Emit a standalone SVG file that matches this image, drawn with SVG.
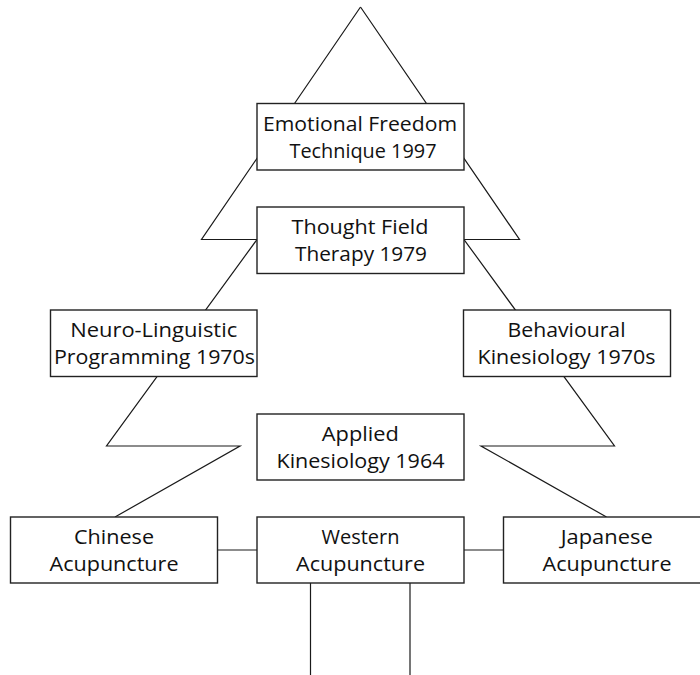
<svg xmlns="http://www.w3.org/2000/svg" width="700" height="675" viewBox="0 0 700 675">
<style>
.ln{fill:none;stroke:#1a1a1a;stroke-width:1.2}
.bx{fill:#fff;stroke:#222;stroke-width:1.4}
.tx{font-family:"Open Sans","Noto Sans","Liberation Sans",sans-serif;font-size:20px;fill:#111;text-anchor:middle}
</style>
<rect width="700" height="675" fill="#fff"/>
<g id="connectors">
<polyline class="ln" points="360.5,7 201.5,239.5 257,239.5 106.5,446 240,446 115,517"/>
<polyline class="ln" points="360.5,7 519.5,239.5 464,239.5 614.5,446 481,446 606.5,517"/>
<line class="ln" x1="217.5" y1="550" x2="257" y2="550"/>
<line class="ln" x1="464" y1="550" x2="503.5" y2="550"/>
<line class="ln" x1="310.5" y1="583" x2="310.5" y2="675"/>
<line class="ln" x1="410" y1="583" x2="410" y2="675"/>
</g>
<g id="eft">
<rect class="bx" x="257" y="103.5" width="207" height="66.5"/>
<text class="tx" x="360" y="130.7" textLength="194" lengthAdjust="spacingAndGlyphs">Emotional Freedom</text>
<text class="tx" x="363" y="157.7" textLength="147" lengthAdjust="spacingAndGlyphs">Technique 1997</text>
</g>
<g id="tft">
<rect class="bx" x="257" y="207" width="207" height="66.5"/>
<text class="tx" x="360" y="233.5" textLength="137" lengthAdjust="spacingAndGlyphs">Thought Field</text>
<text class="tx" x="361" y="260.5" textLength="132" lengthAdjust="spacingAndGlyphs">Therapy 1979</text>
</g>
<g id="nlp">
<rect class="bx" x="50.5" y="310" width="206.5" height="66.5"/>
<text class="tx" x="153.7" y="337" textLength="167" lengthAdjust="spacingAndGlyphs">Neuro-Linguistic</text>
<text class="tx" x="154.5" y="364" textLength="201" lengthAdjust="spacingAndGlyphs">Programming 1970s</text>
</g>
<g id="bk">
<rect class="bx" x="463.5" y="310" width="207" height="66.5"/>
<text class="tx" x="566.5" y="337" textLength="118" lengthAdjust="spacingAndGlyphs">Behavioural</text>
<text class="tx" x="566.5" y="364" textLength="178" lengthAdjust="spacingAndGlyphs">Kinesiology 1970s</text>
</g>
<g id="ak">
<rect class="bx" x="257" y="414" width="207" height="66"/>
<text class="tx" x="360.3" y="441" textLength="77" lengthAdjust="spacingAndGlyphs">Applied</text>
<text class="tx" x="360.5" y="468" textLength="168" lengthAdjust="spacingAndGlyphs">Kinesiology 1964</text>
</g>
<g id="ca">
<rect class="bx" x="10.5" y="517" width="207" height="66"/>
<text class="tx" x="114" y="544" textLength="80" lengthAdjust="spacingAndGlyphs">Chinese</text>
<text class="tx" x="114" y="571" textLength="129" lengthAdjust="spacingAndGlyphs">Acupuncture</text>
</g>
<g id="wa">
<rect class="bx" x="257" y="517" width="207" height="66"/>
<text class="tx" x="360.5" y="544">Western</text>
<text class="tx" x="360.5" y="571" textLength="129" lengthAdjust="spacingAndGlyphs">Acupuncture</text>
</g>
<g id="ja">
<rect class="bx" x="503.5" y="517" width="207" height="66"/>
<text class="tx" x="606.7" y="544" textLength="92" lengthAdjust="spacingAndGlyphs">Japanese</text>
<text class="tx" x="607" y="571" textLength="129" lengthAdjust="spacingAndGlyphs">Acupuncture</text>
</g>
</svg>
